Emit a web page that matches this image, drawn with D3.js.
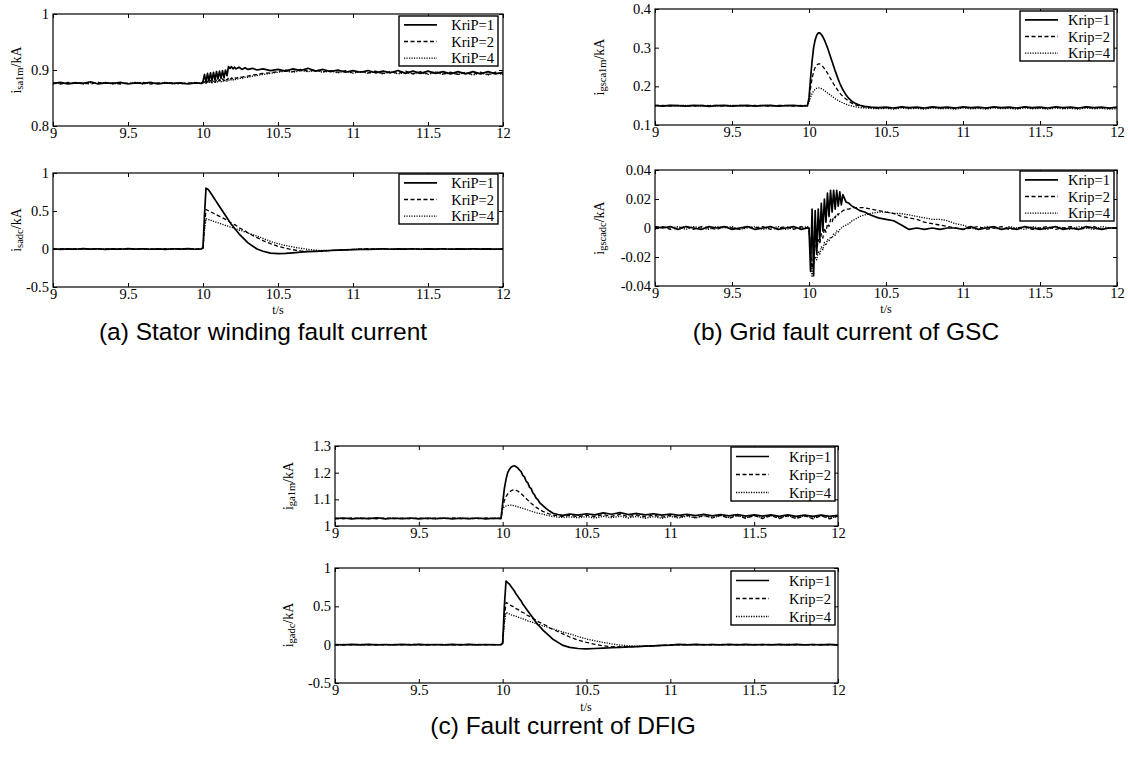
<!DOCTYPE html>
<html><head><meta charset="utf-8">
<script src="https://cdn.jsdelivr.net/npm/d3@7"></script>
<style>body{margin:0;background:#fff}svg{display:block}</style>
</head><body>
<svg id="chart" width="1128" height="758"></svg>
<script>
// ---------------- DATA ----------------
const timeGrid = [
  9.00,9.05,9.10,9.15,9.20,9.25,9.30,9.35,9.40,9.45,9.50,9.55,9.60,9.65,9.70,9.75,9.80,9.85,9.90,9.95,9.99,
  10.00,10.01,10.02,10.03,10.04,10.05,10.06,10.07,10.08,10.09,10.10,10.11,10.12,10.13,10.14,10.15,10.16,10.17,10.18,10.19,10.20,10.21,10.22,10.24,10.26,10.28,10.30,10.33,10.36,10.40,10.45,
  10.50,10.55,10.60,10.65,10.70,10.75,10.80,10.85,10.90,10.95,11.00,11.05,11.10,11.15,11.20,11.25,11.30,11.35,11.40,11.45,11.50,11.55,11.60,11.65,11.70,11.75,11.80,11.85,11.90,11.95,12.00
];
const xTicks = [9, 9.5, 10, 10.5, 11, 11.5, 12];
const xTickLabels = ["9", "9.5", "10", "10.5", "11", "11.5", "12"];
const legendKriP = ["KriP=1", "KriP=2", "KriP=4"];
const legendKrip = ["Krip=1", "Krip=2", "Krip=4"];

const isa1mTicks = [0.8, 0.9, 1];
const isa1mTickLabels = ["0.8", "0.9", "1"];
const adcTicks = [-0.5, 0, 0.5, 1];
const adcTickLabels = ["-0.5", "0", "0.5", "1"];
const igsca1mTicks = [0.1, 0.2, 0.3, 0.4];
const igsca1mTickLabels = ["0.1", "0.2", "0.3", "0.4"];
const igscadcTicks = [-0.04, -0.02, 0, 0.02, 0.04];
const igscadcTickLabels = ["-0.04", "-0.02", "0", "0.02", "0.04"];
const iga1mTicks = [1, 1.1, 1.2, 1.3];
const iga1mTickLabels = ["1", "1.1", "1.2", "1.3"];

// (a) stator winding, fundamental amplitude
const isa1m_K1 = [
  0.876,0.878,0.875,0.877,0.876,0.879,0.875,0.877,0.876,0.878,0.875,0.877,0.876,0.878,0.875,0.877,0.876,0.877,0.875,0.877,0.876,
  0.880,0.892,0.878,0.894,0.880,0.895,0.881,0.896,0.882,0.897,0.884,0.898,0.885,0.899,0.886,0.900,0.890,0.906,0.903,0.906,0.902,0.905,0.902,0.905,0.901,0.904,0.901,0.903,0.900,0.902,0.899,
  0.901,0.898,0.902,0.899,0.903,0.898,0.901,0.897,0.900,0.896,0.899,0.896,0.899,0.895,0.898,0.895,0.899,0.894,0.898,0.894,0.898,0.894,0.897,0.893,0.897,0.893,0.897,0.893,0.897,0.893,0.896
];
const isa1m_K2 = [
  0.877,0.875,0.878,0.876,0.877,0.875,0.878,0.876,0.877,0.875,0.877,0.876,0.878,0.875,0.877,0.876,0.877,0.875,0.877,0.876,0.877,
  0.877,0.879,0.876,0.880,0.877,0.881,0.878,0.881,0.878,0.882,0.879,0.883,0.880,0.884,0.881,0.885,0.882,0.886,0.883,0.886,0.884,0.887,0.885,0.888,0.887,0.889,0.889,0.891,0.892,0.894,0.895,
  0.897,0.900,0.897,0.901,0.898,0.900,0.897,0.899,0.896,0.899,0.895,0.898,0.895,0.898,0.894,0.897,0.894,0.898,0.893,0.897,0.893,0.897,0.893,0.896,0.892,0.896,0.892,0.896,0.892,0.896,0.893
];
const isa1m_K4 = [
  0.875,0.877,0.876,0.878,0.875,0.877,0.876,0.878,0.875,0.877,0.876,0.878,0.875,0.877,0.876,0.878,0.875,0.877,0.876,0.878,0.876,
  0.876,0.878,0.876,0.879,0.877,0.879,0.877,0.880,0.878,0.880,0.878,0.881,0.879,0.881,0.879,0.882,0.880,0.882,0.881,0.883,0.882,0.884,0.883,0.885,0.885,0.887,0.887,0.889,0.890,0.892,0.894,
  0.896,0.898,0.896,0.899,0.897,0.899,0.896,0.898,0.895,0.898,0.894,0.897,0.894,0.897,0.893,0.897,0.893,0.896,0.893,0.896,0.892,0.896,0.892,0.895,0.892,0.895,0.891,0.895,0.891,0.895,0.892
];

// (a) stator winding, dc component
const isadc_K1 = [
  0.003,-0.004,0.002,-0.003,0.004,-0.002,0.003,-0.004,0.002,-0.003,0.004,-0.002,0.003,-0.003,0.002,-0.004,0.003,-0.002,0.004,-0.003,0.002,
  0.02,0.45,0.80,0.79,0.77,0.74,0.71,0.68,0.65,0.62,0.59,0.56,0.53,0.50,0.47,0.44,0.41,0.38,0.35,0.32,0.30,0.27,0.25,0.20,0.16,0.12,0.08,0.04,0.00,-0.03,-0.055,
  -0.06,-0.058,-0.05,-0.04,-0.035,-0.03,-0.025,-0.02,-0.015,-0.012,-0.008,-0.004,-0.006,-0.002,0.003,-0.003,0.002,-0.002,0.003,-0.003,0.002,-0.002,0.003,-0.003,0.002,-0.002,0.003,-0.002,0.002,-0.003,0.002
];
const isadc_K2 = [
  -0.002,0.003,-0.003,0.004,-0.002,0.003,-0.004,0.002,-0.003,0.004,-0.002,0.003,-0.003,0.002,-0.004,0.003,-0.002,0.004,-0.003,0.002,-0.002,
  0.01,0.30,0.52,0.51,0.50,0.49,0.48,0.47,0.46,0.45,0.44,0.43,0.42,0.41,0.40,0.39,0.38,0.37,0.35,0.34,0.33,0.32,0.31,0.28,0.26,0.24,0.21,0.18,0.15,0.11,0.07,
  0.035,0.01,-0.01,-0.025,-0.03,-0.032,-0.028,-0.02,-0.015,-0.01,-0.006,-0.002,0.003,-0.003,0.002,-0.004,0.003,-0.002,0.004,-0.003,0.002,-0.004,0.003,-0.002,0.004,-0.003,0.002,-0.003,0.003,-0.002,0.002
];
const isadc_K4 = [
  0.001,-0.002,0.003,-0.002,0.001,-0.003,0.002,-0.001,0.003,-0.002,0.001,-0.003,0.002,-0.001,0.003,-0.002,0.001,-0.003,0.002,-0.001,0.001,
  0.01,0.25,0.40,0.39,0.385,0.38,0.37,0.365,0.36,0.35,0.345,0.34,0.33,0.325,0.32,0.31,0.305,0.30,0.29,0.285,0.28,0.27,0.265,0.25,0.24,0.225,0.21,0.19,0.17,0.14,0.10,
  0.07,0.045,0.025,0.01,-0.005,-0.015,-0.02,-0.02,-0.015,-0.01,-0.008,0.001,-0.003,0.002,-0.001,0.003,-0.002,0.001,-0.003,0.002,-0.001,0.003,-0.002,0.001,-0.003,0.002,-0.001,0.003,-0.002,0.001,-0.001
];

// (b) GSC grid current, fundamental amplitude
const igsca1m_K1 = [
  0.151,0.149,0.151,0.150,0.149,0.151,0.150,0.148,0.150,0.151,0.149,0.150,0.151,0.149,0.150,0.151,0.149,0.150,0.151,0.149,0.150,
  0.170,0.220,0.265,0.300,0.320,0.332,0.338,0.338,0.334,0.328,0.320,0.310,0.300,0.288,0.276,0.264,0.252,0.240,0.229,0.218,0.208,0.199,0.191,0.178,0.168,0.161,0.156,0.151,0.148,0.146,0.145,
  0.146,0.144,0.147,0.145,0.146,0.144,0.147,0.145,0.146,0.144,0.147,0.145,0.146,0.144,0.147,0.145,0.146,0.144,0.147,0.145,0.146,0.144,0.147,0.145,0.146,0.144,0.147,0.145,0.146,0.144,0.146
];
const igsca1m_K2 = [
  0.150,0.151,0.149,0.151,0.150,0.149,0.151,0.150,0.151,0.149,0.150,0.151,0.149,0.151,0.150,0.149,0.151,0.150,0.149,0.151,0.150,
  0.165,0.195,0.220,0.238,0.249,0.255,0.258,0.258,0.255,0.251,0.246,0.240,0.234,0.227,0.220,0.213,0.206,0.200,0.194,0.188,0.183,0.178,0.174,0.167,0.161,0.156,0.152,0.149,0.147,0.145,0.144,
  0.145,0.143,0.146,0.144,0.145,0.143,0.146,0.144,0.145,0.143,0.146,0.144,0.145,0.143,0.146,0.144,0.145,0.143,0.146,0.144,0.145,0.143,0.146,0.144,0.145,0.143,0.146,0.144,0.145,0.143,0.145
];
const igsca1m_K4 = [
  0.149,0.150,0.151,0.149,0.151,0.150,0.149,0.151,0.149,0.150,0.151,0.149,0.150,0.149,0.151,0.150,0.149,0.151,0.150,0.150,0.149,
  0.160,0.172,0.181,0.188,0.192,0.195,0.196,0.196,0.194,0.192,0.189,0.186,0.183,0.180,0.177,0.174,0.171,0.168,0.166,0.163,0.161,0.159,0.157,0.154,0.151,0.149,0.147,0.145,0.144,0.143,0.142,
  0.143,0.141,0.144,0.142,0.143,0.141,0.144,0.142,0.143,0.141,0.144,0.142,0.143,0.141,0.144,0.142,0.143,0.141,0.144,0.142,0.143,0.141,0.144,0.142,0.143,0.141,0.144,0.142,0.143,0.141,0.142
];

// (b) GSC grid current, dc component
const igscadc_K1 = [
  0.001,0.000,0.001,-0.001,0.001,0.000,-0.001,0.001,0.000,0.001,-0.001,0.000,0.001,-0.001,0.000,0.001,-0.001,0.000,0.001,-0.001,0.000,
  0.000,-0.030,0.013,-0.033,0.012,-0.018,0.013,-0.008,0.017,-0.002,0.020,0.004,0.024,0.008,0.026,0.011,0.026,0.013,0.026,0.015,0.025,0.016,0.023,0.018,0.017,0.015,0.014,0.012,0.011,0.009,0.007,
  0.006,0.005,0.002,-0.001,0.000,-0.001,0.000,-0.001,0.000,0.000,-0.001,0.001,-0.001,0.000,0.001,-0.001,0.000,-0.001,0.001,0.000,-0.001,0.000,0.001,-0.001,0.000,-0.001,0.001,0.000,-0.001,0.000,0.000
];
const igscadc_K2 = [
  0.000,0.001,-0.001,0.000,0.001,-0.001,0.001,0.000,-0.001,0.001,0.000,-0.001,0.001,0.000,0.001,-0.001,0.000,0.001,-0.001,0.001,0.000,
  0.000,-0.015,-0.028,-0.020,-0.012,-0.016,-0.008,-0.011,-0.004,-0.007,0.000,-0.003,0.003,0.001,0.006,0.004,0.008,0.007,0.010,0.009,0.011,0.011,0.012,0.013,0.013,0.014,0.014,0.014,0.014,0.013,0.012,
  0.011,0.010,0.008,0.007,0.006,0.004,0.003,0.002,0.001,0.000,-0.001,0.000,0.001,-0.001,0.000,0.001,-0.001,0.000,0.001,-0.001,0.000,0.001,-0.001,0.000,0.001,-0.001,0.000,0.001,-0.001,0.000,0.000
];
const igscadc_K4 = [
  -0.001,0.001,0.000,0.001,-0.001,0.001,0.000,-0.001,0.001,0.000,0.001,-0.001,0.000,0.001,-0.001,0.000,0.001,-0.001,0.000,0.000,0.001,
  0.000,-0.020,-0.034,-0.025,-0.020,-0.022,-0.016,-0.018,-0.013,-0.015,-0.010,-0.012,-0.008,-0.009,-0.006,-0.007,-0.004,-0.005,-0.002,-0.003,-0.001,0.000,0.001,0.002,0.003,0.005,0.006,0.008,0.009,0.010,0.011,
  0.011,0.010,0.010,0.009,0.008,0.007,0.006,0.006,0.005,0.003,0.002,0.000,-0.001,0.001,0.000,-0.001,0.001,0.000,-0.001,0.001,0.000,-0.001,0.001,0.000,-0.001,0.001,0.000,-0.001,0.001,0.000,0.000
];

// (c) DFIG total current, fundamental amplitude
const iga1m_K1 = [
  1.028,1.030,1.027,1.029,1.028,1.031,1.027,1.029,1.028,1.030,1.027,1.029,1.028,1.030,1.027,1.029,1.028,1.030,1.027,1.029,1.028,
  1.085,1.140,1.175,1.200,1.212,1.220,1.224,1.226,1.222,1.218,1.210,1.204,1.190,1.184,1.168,1.162,1.146,1.140,1.124,1.117,1.104,1.099,1.088,1.076,1.065,1.056,1.048,1.043,1.040,1.045,1.041,
  1.046,1.042,1.049,1.044,1.050,1.043,1.047,1.042,1.046,1.041,1.045,1.040,1.044,1.039,1.044,1.038,1.043,1.038,1.043,1.037,1.042,1.037,1.042,1.036,1.042,1.036,1.041,1.036,1.041,1.036,1.040
];
const iga1m_K2 = [
  1.029,1.027,1.030,1.028,1.029,1.027,1.030,1.028,1.029,1.027,1.030,1.028,1.029,1.027,1.030,1.028,1.029,1.027,1.030,1.028,1.029,
  1.070,1.095,1.110,1.120,1.127,1.132,1.135,1.136,1.134,1.131,1.126,1.121,1.115,1.109,1.103,1.097,1.091,1.085,1.080,1.075,1.070,1.066,1.062,1.055,1.049,1.045,1.041,1.038,1.036,1.040,1.035,
  1.041,1.035,1.043,1.036,1.044,1.035,1.042,1.034,1.041,1.033,1.040,1.032,1.041,1.031,1.040,1.030,1.040,1.029,1.039,1.029,1.039,1.028,1.039,1.028,1.038,1.028,1.038,1.027,1.038,1.027,1.037
];
const iga1m_K4 = [
  1.027,1.029,1.028,1.030,1.027,1.029,1.028,1.030,1.027,1.029,1.028,1.030,1.027,1.029,1.028,1.030,1.027,1.029,1.028,1.030,1.028,
  1.065,1.072,1.075,1.077,1.078,1.078,1.077,1.076,1.074,1.072,1.070,1.068,1.066,1.064,1.062,1.060,1.058,1.056,1.054,1.052,1.050,1.048,1.047,1.044,1.041,1.038,1.036,1.033,1.032,1.034,1.031,
  1.035,1.030,1.036,1.031,1.037,1.030,1.036,1.029,1.035,1.029,1.036,1.030,1.037,1.030,1.038,1.031,1.039,1.031,1.040,1.030,1.040,1.030,1.039,1.030,1.040,1.029,1.039,1.030,1.040,1.029,1.038
];

// (c) DFIG total current, dc component
const igadc_K1 = [
  0.002,-0.003,0.003,-0.002,0.004,-0.003,0.002,-0.004,0.003,-0.002,0.003,-0.003,0.002,-0.004,0.003,-0.002,0.004,-0.003,0.002,-0.003,0.002,
  0.02,0.50,0.83,0.81,0.79,0.76,0.73,0.70,0.66,0.63,0.60,0.57,0.53,0.50,0.47,0.44,0.41,0.38,0.35,0.32,0.29,0.26,0.24,0.19,0.15,0.11,0.07,0.03,-0.01,-0.035,-0.05,
  -0.055,-0.05,-0.045,-0.04,-0.035,-0.03,-0.025,-0.02,-0.015,-0.01,-0.006,0.003,-0.002,0.004,-0.003,0.002,-0.004,0.003,-0.002,0.004,-0.003,0.002,-0.004,0.003,-0.002,0.004,-0.003,0.002,-0.003,0.003,-0.002
];
const igadc_K2 = [
  -0.003,0.002,-0.002,0.003,-0.004,0.002,-0.003,0.003,-0.002,0.004,-0.003,0.002,-0.002,0.003,-0.004,0.002,-0.003,0.003,-0.002,0.004,-0.002,
  0.01,0.35,0.55,0.54,0.52,0.51,0.50,0.48,0.47,0.46,0.45,0.43,0.42,0.41,0.39,0.38,0.37,0.35,0.34,0.33,0.32,0.30,0.29,0.27,0.25,0.22,0.20,0.17,0.14,0.10,0.06,
  0.03,0.005,-0.015,-0.025,-0.03,-0.03,-0.025,-0.02,-0.015,-0.01,-0.006,-0.002,0.003,-0.003,0.002,-0.004,0.003,-0.002,0.004,-0.003,0.002,-0.004,0.003,-0.002,0.004,-0.003,0.002,-0.003,0.003,-0.002,0.002
];
const igadc_K4 = [
  0.001,-0.003,0.002,-0.001,0.003,-0.002,0.001,-0.003,0.002,-0.001,0.003,-0.002,0.001,-0.003,0.002,-0.001,0.003,-0.002,0.001,-0.001,0.001,
  0.01,0.28,0.42,0.41,0.40,0.39,0.385,0.375,0.37,0.36,0.35,0.345,0.335,0.33,0.32,0.31,0.305,0.295,0.29,0.28,0.275,0.265,0.26,0.245,0.235,0.22,0.205,0.185,0.165,0.14,0.105,
  0.075,0.05,0.03,0.01,-0.005,-0.015,-0.02,-0.02,-0.015,-0.01,-0.006,0.001,-0.003,0.002,-0.001,0.003,-0.002,0.001,-0.003,0.002,-0.001,0.003,-0.002,0.001,-0.003,0.002,-0.001,0.003,-0.002,0.001,-0.001
];

const captions = ["(a) Stator winding fault current", "(b) Grid fault current of GSC", "(c) Fault current of DFIG"];

// ---------------- LAYOUT / STYLE ----------------
const serif = "'Liberation Serif','Times New Roman',serif";
const sans = "'Liberation Sans',Arial,sans-serif";
const lineStyles = [
  {w: 1.7, dash: null},
  {w: 1.3, dash: "4,2.5"},
  {w: 1.3, dash: "1.2,1.3"}
];

const panels = [
  {key:"a1", box:[53,14,503,126], domain:[0.8,1], ticks:isa1mTicks, tickLabels:isa1mTickLabels,
   series:[isa1m_K1,isa1m_K2,isa1m_K4], legend:legendKriP, leg:[399,16,498,66],
   ylab:["i","sa1m","/kA"], ylabPos:[21,70], tlabel:null},
  {key:"a2", box:[53,173,503,287], domain:[-0.5,1], ticks:adcTicks, tickLabels:adcTickLabels,
   series:[isadc_K1,isadc_K2,isadc_K4], legend:legendKriP, leg:[399,174,498,224],
   ylab:["i","sadc","/kA"], ylabPos:[21,230], tlabel:[278,314]},
  {key:"b1", box:[655,9,1117,125], domain:[0.1,0.4], ticks:igsca1mTicks, tickLabels:igsca1mTickLabels,
   series:[igsca1m_K1,igsca1m_K2,igsca1m_K4], legend:legendKrip, leg:[1020,11,1114,61],
   ylab:["i","gsca1m","/kA"], ylabPos:[604,67], tlabel:null},
  {key:"b2", box:[655,170,1117,286], domain:[-0.04,0.04], ticks:igscadcTicks, tickLabels:igscadcTickLabels,
   series:[igscadc_K1,igscadc_K2,igscadc_K4], legend:legendKrip, leg:[1020,171,1114,221],
   ylab:["i","gscadc","/kA"], ylabPos:[604,228], tlabel:[886,313]},
  {key:"c1", box:[335,446,838,526], domain:[1,1.3], ticks:iga1mTicks, tickLabels:iga1mTickLabels,
   series:[iga1m_K1,iga1m_K2,iga1m_K4], legend:legendKrip, leg:[731,447,835,501],
   ylab:["i","ga1m","/kA"], ylabPos:[293,486], tlabel:null},
  {key:"c2", box:[335,568,838,683], domain:[-0.5,1], ticks:adcTicks, tickLabels:adcTickLabels,
   series:[igadc_K1,igadc_K2,igadc_K4], legend:legendKrip, leg:[731,571,835,625],
   ylab:["i","gadc","/kA"], ylabPos:[293,625], tlabel:[586,711]}
];
const captionPos = [[263,340],[846,340],[563,734]];

// ---------------- DRAW ----------------
const svg = d3.select("#chart");
svg.append("rect").attr("width",1128).attr("height",758).attr("fill","#fff");

panels.forEach(p => {
  const [x0,y0,x1,y1] = p.box;
  const w = x1 - x0, h = y1 - y0;
  const g = svg.append("g").attr("transform", `translate(${x0},${y0})`);
  const x = d3.scaleLinear().domain([9,12]).range([0,w]);
  const y = d3.scaleLinear().domain(p.domain).range([h,0]);

  g.append("clipPath").attr("id","clip-"+p.key)
    .append("rect").attr("x",0).attr("y",0).attr("width",w).attr("height",h);

  const line = d3.line().x(d => x(d[0])).y(d => y(d[1]));
  [2,1,0].forEach(i => {
    const vals = p.series[i];
    const pts = timeGrid.map((t,j) => [t, vals[j]]).filter(d => d[1] !== undefined);
    const st = lineStyles[i];
    g.append("path").datum(pts)
      .attr("d", line)
      .attr("clip-path", `url(#clip-${p.key})`)
      .attr("fill","none").attr("stroke","#000")
      .attr("stroke-width", st.w)
      .attr("stroke-linejoin","round")
      .attr("stroke-dasharray", st.dash);
  });

  const fmtX = d => xTickLabels[xTicks.indexOf(d)];
  const fmtY = d => p.tickLabels[p.ticks.indexOf(d)];
  const axB = g.append("g").attr("transform",`translate(0,${h})`)
    .call(d3.axisBottom(x).tickValues(xTicks).tickFormat(fmtX).tickSizeInner(-4).tickSizeOuter(0).tickPadding(2));
  const axT = g.append("g")
    .call(d3.axisTop(x).tickValues(xTicks).tickFormat("").tickSizeInner(-4).tickSizeOuter(0));
  const axL = g.append("g")
    .call(d3.axisLeft(y).tickValues(p.ticks).tickFormat(fmtY).tickSizeInner(-4).tickSizeOuter(0).tickPadding(4));
  const axR = g.append("g").attr("transform",`translate(${w},0)`)
    .call(d3.axisRight(y).tickValues(p.ticks).tickFormat("").tickSizeInner(-4).tickSizeOuter(0));
  [axB,axT,axL,axR].forEach(a => {
    a.select(".domain").remove();
    a.selectAll("line").attr("stroke","#000");
    a.selectAll("text").attr("font-family",serif).attr("font-size",14.5).attr("fill","#000");
  });
  g.append("rect").attr("x",0).attr("y",0).attr("width",w).attr("height",h)
    .attr("fill","none").attr("stroke","#000").attr("stroke-width",1.2);

  // legend
  const [lx0,ly0,lx1,ly1] = p.leg;
  const lg = svg.append("g");
  lg.append("rect").attr("x",lx0).attr("y",ly0).attr("width",lx1-lx0).attr("height",ly1-ly0)
    .attr("fill","#fff").attr("stroke","#000").attr("stroke-width",1.4);
  const rowH = (ly1 - ly0) / 3;
  p.legend.forEach((lab,i) => {
    const cy = ly0 + rowH*(i+0.5) + 0.5;
    const st = lineStyles[i];
    lg.append("line").attr("x1",lx0+5).attr("x2",lx0+38).attr("y1",cy).attr("y2",cy)
      .attr("stroke","#000").attr("stroke-width",st.w).attr("stroke-dasharray",st.dash);
    lg.append("text").attr("x",lx1-4).attr("y",cy).attr("dy","0.35em")
      .attr("text-anchor","end")
      .attr("font-family",serif).attr("font-size",14.5).text(lab);
  });

  // y label
  const [yx,yy] = p.ylabPos;
  const yl = svg.append("text").attr("transform",`translate(${yx},${yy}) rotate(-90)`)
    .attr("text-anchor","middle").attr("font-family",serif).attr("font-size",14).attr("fill","#000");
  yl.append("tspan").text(p.ylab[0]);
  yl.append("tspan").attr("font-size",10.5).attr("dy",2).text(p.ylab[1]);
  yl.append("tspan").attr("dy",-2).text(p.ylab[2]);

  if (p.tlabel) {
    svg.append("text").attr("x",p.tlabel[0]).attr("y",p.tlabel[1])
      .attr("text-anchor","middle").attr("font-family",serif).attr("font-size",12).text("t/s");
  }
});

captions.forEach((c,i) => {
  svg.append("text").attr("x",captionPos[i][0]).attr("y",captionPos[i][1])
    .attr("text-anchor","middle").attr("font-family",sans).attr("font-size",24.5).attr("fill","#000").text(c);
});
</script>
</body></html>
